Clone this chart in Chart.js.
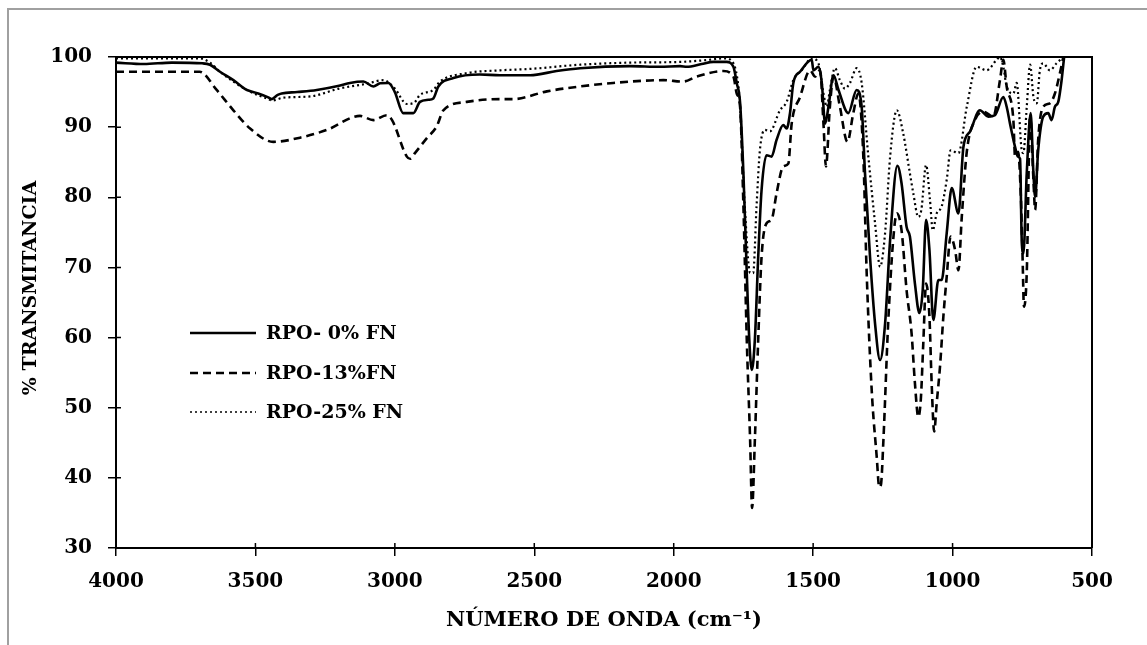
<!DOCTYPE html>
<html><head><meta charset="utf-8">
<script src="https://cdn.jsdelivr.net/npm/chart.js@4.4.0/dist/chart.umd.min.js"></script>
<style>
html,body{margin:0;padding:0;background:#fff;overflow:hidden}
#wrap{position:relative;width:1147px;height:645px}
#frame{position:absolute;left:7px;top:8px;width:1170px;height:680px;border:2px solid #a0a0a0;box-sizing:border-box;pointer-events:none}
canvas{position:absolute;left:0;top:0}
</style></head>
<body><div id="wrap"><canvas id="c" width="1147" height="645"></canvas><div id="frame"></div></div>
<script>
const seriesNames = ["RPO- 0% FN", "RPO-13%FN", "RPO-25% FN"];
const xTitle = "NÚMERO DE ONDA (cm⁻¹)";
const yTitle = "% TRANSMITANCIA";
const xMin = 500, xMax = 4000, xStep = 500;
const yMin = 30, yMax = 100, yStep = 10;

// RPO- 0% FN (solid)
const wn0 = [4000,3900,3800,3690,3663,3627,3579,3531,3490,3454,3442,3420,3406,3350,3280,3200,3161,3113,3077,3053,3023,3000,2970,2934,2910,2880,2862,2844,2790,2695,2623,2515,2420,2336,2157,2050,1977,1953,1900,1858,1810,1786,1774,1762,1750,1738,1729,1720,1709,1697,1685,1667,1649,1631,1607,1595,1583,1571,1547,1505,1499,1481,1469,1457,1445,1427,1409,1374,1344,1326,1314,1296,1278,1260,1242,1224,1198,1183,1165,1153,1135,1119,1107,1095,1083,1069,1051,1039,1021,1003,979,961,937,902,872,848,818,806,794,776,766,758,752,746,734,720,710,704,693,675,657,645,633,621,609,600];
const t0  = [99.2,99.0,99.2,99.1,98.9,97.9,96.7,95.3,94.8,94.25,94.0,94.6,94.8,95.0,95.3,95.9,96.3,96.5,95.8,96.25,96.3,95.0,92.0,92.0,93.6,93.9,94.1,95.8,97.0,97.5,97.4,97.4,98.0,98.4,98.7,98.6,98.7,98.6,99.0,99.3,99.3,98.6,96.3,93.5,83.4,69.2,59.7,55.4,59.7,71.5,81.0,86.0,85.8,88.2,90.3,89.8,92.0,96.3,97.9,99.6,98.1,98.6,96.3,90.5,92.9,97.4,95.3,92.0,95.3,92.9,83.4,71.5,62.0,56.8,62.0,73.9,84.5,82.0,75.8,74.4,67.7,63.5,66.8,76.8,72.5,62.5,68.2,68.2,74.9,81.3,77.7,87.2,89.4,92.4,91.5,91.7,94.3,92.9,90.5,87.2,85.8,85.5,73.9,72.0,83.4,92.0,83.4,80.1,86.7,91.5,92.0,91.0,92.9,93.6,96.7,100];

// RPO-13%FN (dashed)
const wn13 = [4000,3700,3639,3579,3519,3436,3340,3244,3125,3077,3029,3010,2957,2945,2928,2886,2850,2826,2742,2623,2575,2455,2336,2217,2037,1966,1918,1822,1786,1774,1762,1750,1738,1726,1719,1709,1697,1685,1667,1649,1631,1607,1589,1577,1547,1511,1493,1475,1463,1454,1440,1427,1404,1377,1356,1338,1320,1308,1290,1272,1263,1257,1248,1231,1213,1200,1183,1165,1147,1135,1123,1114,1105,1095,1083,1075,1066,1057,1045,1033,1021,1007,991,979,967,949,920,890,854,830,818,806,782,776,765,755,749,744,734,722,710,704,693,675,651,633,615,603];
const t13  = [97.9,97.9,95.3,92.4,89.8,87.9,88.5,89.6,91.6,91.0,91.7,91.0,85.8,85.5,86.3,88.4,90.1,92.4,93.6,94.0,94.0,95.1,95.8,96.3,96.7,96.5,97.2,98.0,97.2,94.8,92.9,78.7,59.7,45.4,35.7,45.4,59.7,71.5,76.3,76.8,80.6,84.4,84.8,90.5,94.3,98.1,97.2,98.1,90.5,84.4,92.9,97.2,92.9,87.9,92.0,94.8,85.8,69.2,52.5,43.0,38.7,39.0,45.4,62.0,73.9,77.7,75.3,66.8,60.6,53.5,48.7,51.1,59.2,67.7,63.0,53.5,46.6,50.6,55.9,63.0,68.7,74.4,72.5,69.6,77.2,86.5,91.0,92.2,91.5,96.7,99.6,95.8,91.0,85.8,86.5,80.0,71.5,64.4,69.2,91.5,82.5,78.2,88.2,92.9,93.4,94.8,97.7,100];

// RPO-25% FN (dotted)
const wn25 = [4000,3700,3663,3627,3579,3531,3454,3440,3400,3300,3200,3100,3041,3000,2957,2930,2910,2862,2838,2742,2623,2515,2336,2157,1977,1900,1816,1786,1768,1762,1745,1726,1715,1703,1691,1673,1655,1619,1595,1571,1541,1505,1481,1463,1451,1440,1422,1404,1386,1368,1344,1326,1302,1278,1260,1242,1224,1200,1177,1153,1141,1123,1112,1095,1081,1071,1057,1039,1021,1007,979,949,914,878,842,830,818,806,782,770,752,746,734,722,710,698,687,675,651,627,603];
const t25  = [99.8,99.8,99.2,97.9,96.5,95.3,94.0,93.8,94.2,94.4,95.5,96.2,96.7,95.5,93.3,93.5,94.6,95.3,96.5,97.7,98.1,98.3,98.9,99.2,99.3,99.5,99.8,99.1,95.8,92.9,78.7,69.2,69.2,78.7,86.7,89.6,89.4,92.4,93.6,96.7,98.1,99.8,99.1,94.8,92.9,95.3,98.4,96.7,95.5,96.3,98.4,96.3,85.8,76.3,70.1,74.9,85.8,92.4,89.1,83.4,80.6,77.2,78.2,84.6,79.6,75.3,77.7,78.7,82.5,86.7,86.3,92.9,98.6,98.1,99.6,100,98.6,95.8,94.8,96.3,86.7,86.3,92.9,98.9,94.3,93.4,98.1,99.1,98.1,99.1,100];

const toPts = (xs, ys) => xs.map((x, i) => ({x: x, y: ys[i]}));
const FONT = "'DejaVu Serif', serif";

const decor = {
  id: 'decor',
  afterDatasetsDraw(chart) {
    const {ctx, chartArea: a, scales} = chart;
    ctx.save();
    ctx.strokeStyle = '#000';
    ctx.lineWidth = 1.5;
    ctx.beginPath();
    scales.x.ticks.forEach(t => { const px = scales.x.getPixelForValue(t.value); ctx.moveTo(px, a.bottom); ctx.lineTo(px, a.bottom - 5); });
    scales.y.ticks.forEach(t => { const py = scales.y.getPixelForValue(t.value); ctx.moveTo(a.left, py); ctx.lineTo(a.left + 5, py); });
    ctx.stroke();
    ctx.lineWidth = 2;
    ctx.beginPath();
    ctx.moveTo(a.left, a.top); ctx.lineTo(a.right, a.top); ctx.lineTo(a.right, a.bottom);
    ctx.stroke();
    // y-axis title
    ctx.save();
    ctx.translate(31, 288);
    ctx.rotate(-Math.PI / 2);
    ctx.font = "bold 19px " + FONT;
    ctx.textAlign = 'center';
    ctx.textBaseline = 'middle';
    ctx.fillStyle = '#000';
    ctx.fillText(yTitle, 0, 0);
    ctx.restore();
    // legend inside plot
    const ds = chart.data.datasets;
    ctx.font = "bold 19px " + FONT;
    ctx.textBaseline = 'middle';
    ctx.textAlign = 'left';
    ctx.fillStyle = '#000';
    const rows = [333, 373, 412];
    ds.forEach((d, i) => {
      const y = rows[i];
      ctx.save();
      ctx.lineWidth = d.legendWidth;
      ctx.setLineDash(d.borderDash || []);
      ctx.beginPath(); ctx.moveTo(190, y); ctx.lineTo(256, y); ctx.stroke();
      ctx.restore();
      ctx.fillText(d.label, 266, y + 1);
    });
    ctx.restore();
  }
};

Chart.defaults.color = '#000';
new Chart(document.getElementById('c'), {
  type: 'line',
  data: {
    datasets: [
      {label: seriesNames[0], data: toPts(wn0, t0), borderColor: '#000', borderWidth: 2.6, legendWidth: 2.4, pointRadius: 0, cubicInterpolationMode: 'monotone', fill: false},
      {label: seriesNames[1], data: toPts(wn13, t13), borderColor: '#000', borderWidth: 2.6, legendWidth: 2.4, borderDash: [8, 5], pointRadius: 0, cubicInterpolationMode: 'monotone', fill: false},
      {label: seriesNames[2], data: toPts(wn25, t25), borderColor: '#000', borderWidth: 2.2, legendWidth: 1.6, borderDash: [2, 3], pointRadius: 0, cubicInterpolationMode: 'monotone', fill: false}
    ]
  },
  options: {
    responsive: false,
    animation: false,
    layout: {padding: {left: 0, top: 57, right: 55, bottom: 0}},
    plugins: {legend: {display: false}, tooltip: {enabled: false}},
    scales: {
      x: {
        type: 'linear', reverse: true, min: xMin, max: xMax,
        afterFit(s) { s.height = 97; },
        ticks: {stepSize: xStep, font: {family: FONT, weight: 'bold', size: 20}, padding: 14, maxRotation: 0, callback: v => String(v)},
        grid: {drawOnChartArea: false, drawTicks: true, tickLength: 8, color: '#000', lineWidth: 1.5},
        border: {display: true, color: '#000', width: 2},
        title: {display: true, text: xTitle, font: {family: FONT, weight: 'bold', size: 21}, padding: {top: 0, bottom: 12}}
      },
      y: {
        min: yMin, max: yMax,
        afterFit(s) { s.width = 116; },
        ticks: {stepSize: yStep, font: {family: FONT, weight: 'bold', size: 20}, padding: 16},
        grid: {drawOnChartArea: false, drawTicks: true, tickLength: 8, color: '#000', lineWidth: 1.5},
        border: {display: true, color: '#000', width: 2},
        title: {display: false}
      }
    }
  },
  plugins: [decor]
});
</script>
</body></html>
